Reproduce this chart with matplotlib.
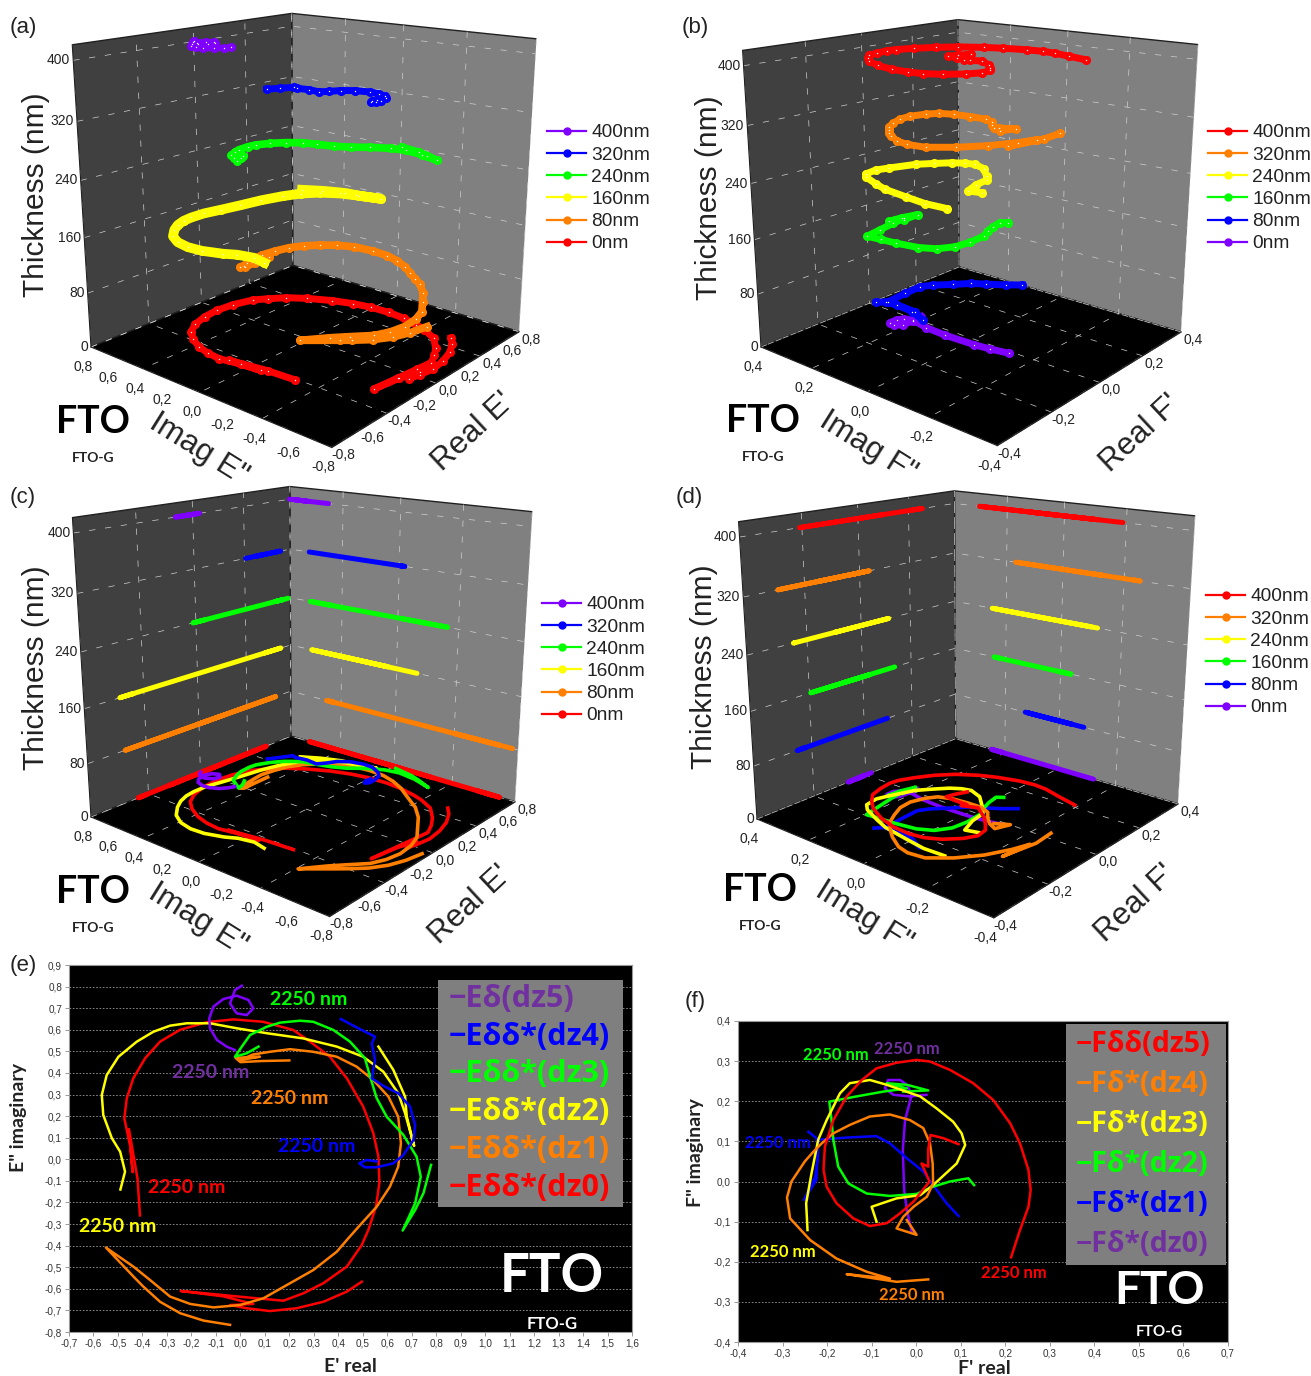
import numpy as np
import matplotlib
matplotlib.use('Agg')
import matplotlib.pyplot as plt
from matplotlib.lines import Line2D
from matplotlib.patches import Rectangle
from mpl_toolkits.mplot3d import proj3d

W = 1311
H = 1376

# E field
E_RE_0 = [-0.41,-0.42,-0.455,-0.44,-0.45,-0.474,-0.464,-0.437,-0.389,-0.328,-0.246,-0.137,-0.029,0.093,0.216,0.285,0.366,0.435,0.502,0.543,0.564,0.568,0.554,0.523,0.496,0.435,0.339,0.257,0.176,0.067,-0.069,-0.244,-0.069,0.053,-0.042,0.026,0.121,0.23,0.339,0.435,0.496]
E_IM_0 = [-0.26,-0.09,0.14,-0.06,0.06,0.19,0.283,0.376,0.468,0.545,0.60,0.635,0.648,0.637,0.599,0.545,0.475,0.375,0.244,0.122,0.012,-0.11,-0.22,-0.327,-0.397,-0.497,-0.574,-0.621,-0.655,-0.644,-0.629,-0.61,-0.635,-0.67,-0.675,-0.69,-0.703,-0.69,-0.66,-0.613,-0.567]
E_RE_1 = [0.20,0.08,0.00,-0.02,0.08,0.00,0.05,0.121,0.203,0.298,0.394,0.475,0.543,0.605,0.645,0.656,0.645,0.611,0.557,0.496,0.441,0.394,0.298,0.203,0.094,-0.001,-0.11,-0.205,-0.287,-0.369,-0.437,-0.549,-0.43,-0.396,-0.328,-0.246,-0.151,-0.042]
E_IM_1 = [0.458,0.455,0.45,0.47,0.475,0.46,0.485,0.498,0.51,0.498,0.475,0.429,0.367,0.29,0.197,0.074,-0.034,-0.127,-0.22,-0.296,-0.366,-0.428,-0.513,-0.574,-0.644,-0.675,-0.686,-0.67,-0.636,-0.559,-0.497,-0.409,-0.551,-0.59,-0.66,-0.713,-0.747,-0.767]
E_RE_2 = [-0.49,-0.471,-0.491,-0.525,-0.56,-0.566,-0.546,-0.498,-0.423,-0.355,-0.287,-0.219,-0.124,-0.015,0.108,0.257,0.394,0.502,0.584,0.645,0.673,0.71,0.68,0.673,0.625,0.564]
E_IM_2 = [-0.14,-0.057,0.035,0.098,0.205,0.298,0.39,0.475,0.545,0.591,0.619,0.63,0.63,0.607,0.584,0.56,0.522,0.475,0.406,0.306,0.213,0.062,0.197,0.29,0.414,0.522]
E_RE_3 = [0.074,0.026,-0.022,0.006,0.04,0.108,0.162,0.244,0.298,0.38,0.448,0.509,0.53,0.557,0.598,0.666,0.72,0.737,0.714,0.663,0.714,0.748,0.779]
E_IM_3 = [0.522,0.491,0.475,0.522,0.576,0.614,0.633,0.642,0.637,0.599,0.545,0.468,0.383,0.283,0.197,0.113,0.012,-0.081,-0.204,-0.33,-0.235,-0.157,-0.026]
E_RE_4 = [0.41,0.475,0.55,0.537,0.55,0.537,0.584,0.645,0.693,0.714,0.707,0.666,0.625,0.557,0.509,0.486,0.516,0.557]
E_IM_4 = [0.65,0.611,0.568,0.537,0.46,0.375,0.34,0.306,0.244,0.159,0.089,0.02,-0.019,-0.037,-0.037,-0.019,-0.003,-0.01]
E_RE_5 = [0.006,-0.022,-0.042,-0.015,0.026,0.053,0.033,-0.015,-0.07,-0.11,-0.127,-0.124,-0.096,-0.056,-0.022]
E_IM_5 = [0.804,0.784,0.722,0.676,0.668,0.699,0.738,0.758,0.742,0.707,0.653,0.607,0.553,0.522,0.506]

# F field
F_RE_0 = [0.023,-0.014,-0.051,-0.07,-0.063,-0.036,-0.021,-0.01,-0.025,-0.03,-0.027,-0.021,-0.01]
F_IM_0 = [0.216,0.212,0.216,0.232,0.253,0.253,0.241,0.216,0.153,0.079,-0.021,-0.071,-0.125]
F_RE_1 = [-0.242,-0.224,-0.22,-0.227,-0.252,-0.224,-0.22,-0.149,-0.089,-0.059,-0.021,0.016,0.038,0.068,0.095]
F_IM_1 = [0.124,0.108,0.07,0.012,-0.046,0.004,0.104,0.11,0.113,0.095,0.058,0.025,-0.009,-0.054,-0.086]
F_RE_2 = [0.13,0.117,0.076,0.038,0.001,-0.059,-0.111,-0.152,-0.175,-0.186,-0.19,-0.195,-0.134,-0.074,-0.021,-0.066,-0.021,0.027,-0.029]
F_IM_2 = [-0.009,0.008,0.0,-0.013,-0.031,-0.036,-0.03,-0.005,0.037,0.104,0.153,0.199,0.212,0.224,0.232,0.245,0.241,0.227,0.224]
F_RE_3 = [-0.244,-0.247,-0.235,-0.22,-0.201,-0.171,-0.149,-0.104,-0.066,0.009,0.046,0.083,0.102,0.11,0.091,0.038,0.009,-0.044,-0.10,-0.089]
F_IM_3 = [-0.121,-0.054,0.02,0.104,0.153,0.22,0.245,0.253,0.241,0.212,0.182,0.149,0.12,0.091,0.045,-0.009,-0.034,-0.042,-0.063,-0.10]
F_RE_4 = [0.027,-0.044,-0.156,-0.059,-0.111,-0.179,-0.238,-0.283,-0.29,-0.28,-0.25,-0.231,-0.212,-0.186,-0.149,-0.104,-0.059,-0.014,0.016,0.031,0.037,0.038,0.024,-0.006,-0.029,-0.044,0.001,-0.021]
F_IM_4 = [-0.244,-0.25,-0.231,-0.242,-0.225,-0.192,-0.146,-0.092,-0.04,0.0,0.05,0.074,0.095,0.12,0.141,0.162,0.167,0.153,0.133,0.095,0.045,-0.005,-0.038,-0.063,-0.088,-0.117,-0.133,-0.096]
F_RE_5 = [0.213,0.233,0.252,0.257,0.252,0.233,0.211,0.173,0.128,0.076,0.031,0.001,-0.044,-0.089,-0.122,-0.156,-0.186,-0.205,-0.208,-0.201,-0.179,-0.141,-0.104,-0.066,-0.036,-0.006,0.03,0.012,0.027,0.027,0.032,0.061,0.095]
F_IM_5 = [-0.189,-0.121,-0.063,-0.021,0.029,0.095,0.145,0.203,0.245,0.278,0.299,0.303,0.296,0.282,0.253,0.212,0.153,0.087,0.029,-0.013,-0.054,-0.092,-0.111,-0.104,-0.079,-0.05,0.0,0.045,0.037,0.08,0.116,0.108,0.093]

LEVELS = [0, 80, 160, 240, 320, 400]
E_SERIES = [(E_RE_0, E_IM_0), (E_RE_1, E_IM_1), (E_RE_2, E_IM_2), (E_RE_3, E_IM_3), (E_RE_4, E_IM_4), (E_RE_5, E_IM_5)]
F_SERIES = [(F_RE_0, F_IM_0), (F_RE_1, F_IM_1), (F_RE_2, F_IM_2), (F_RE_3, F_IM_3), (F_RE_4, F_IM_4), (F_RE_5, F_IM_5)]

RED = '#ff0000'
ORANGE = '#ff7f00'
YELLOW = '#ffff00'
GREEN = '#00ff00'
BLUE = '#0000ff'
PURPLE = '#7f00ff'
DARK_PURPLE = '#7030a0'
E_COLORS = [RED, ORANGE, YELLOW, GREEN, BLUE, PURPLE]
F_COLORS = [PURPLE, BLUE, GREEN, YELLOW, ORANGE, RED]

E_LEGEND = ['\u2212E\u03b4\u03b4*(dz0)', '\u2212E\u03b4\u03b4*(dz1)', '\u2212E\u03b4\u03b4*(dz2)', '\u2212E\u03b4\u03b4*(dz3)', '\u2212E\u03b4\u03b4*(dz4)', '\u2212E\u03b4(dz5)']
F_LEGEND = ['\u2212F\u03b4*(dz0)', '\u2212F\u03b4*(dz1)', '\u2212F\u03b4*(dz2)', '\u2212F\u03b4*(dz3)', '\u2212F\u03b4*(dz4)', '\u2212F\u03b4\u03b4(dz5)']

plt.rcParams['font.family'] = ['Liberation Sans', 'DejaVu Sans']

fig = plt.figure(figsize=(W / 100, H / 100), dpi=100)


def fx(px):
	return px / W


def fy(py):
	return 1 - py / H


def comma(v):
	return ('%.1f' % (v + 0)).replace('.', ',').replace('-0,0', '0,0')


def screen_pos(ax, x, y, z):
	ax.apply_aspect()
	xp, yp, _ = proj3d.proj_transform(x, y, z, ax.get_proj())
	return ax.transData.transform((xp, yp))


def fit_axes(ax, lim, left_px, right_px):
	# scale and shift the axes until the floor corners sit where they should
	a = screen_pos(ax, -lim, lim, 0)
	b = screen_pos(ax, lim, -lim, 0)
	scale = (right_px[0] - left_px[0]) / (b[0] - a[0])
	pos = ax.get_position()
	ax.set_position([pos.x0, pos.y0, pos.width * scale, pos.height * scale])
	a = screen_pos(ax, -lim, lim, 0)
	pos = ax.get_position()
	ax.set_position([pos.x0 + (left_px[0] - a[0]) / W, pos.y0 + (H - left_px[1] - a[1]) / H, pos.width, pos.height])


def label_at(p, dx, dy, s, ha='center'):
	# p is in display pixels, dy counts downwards
	fig.text((p[0] + dx) / W, (p[1] - dy) / H, s, ha=ha, va='center', fontsize=10, color='#222222')


def panel3d(left_px, right_px, lim, series, colors, walls, widths, letter, letter_px, re_name, im_name, thick_px, imag_px, real_px, fto_x, fto_y, legend_px):
	ax = fig.add_axes([0.1, 0.1, 0.4, 0.4], projection='3d', computed_zorder=False)
	ax.set_proj_type('persp', focal_length=0.38)
	ax.view_init(elev=16.5, azim=-140)
	ax.set_box_aspect((1, 1, 0.98))
	ax.set_xlim(-lim, lim)
	ax.set_ylim(-lim, lim)
	ax.set_zlim(0, 420)
	step = lim / 2
	ax.set_xticks(np.arange(-lim, lim + 0.01, step))
	ax.set_yticks(np.arange(-lim, lim + 0.01, step))
	ax.set_zticks(LEVELS)
	ax.set_xticklabels([])
	ax.set_yticklabels([])
	ax.set_zticklabels([])
	ax.set_facecolor('none')
	ax.xaxis.set_pane_color('#808080')
	ax.yaxis.set_pane_color('#404040')
	ax.zaxis.set_pane_color('#000000')
	for axis in [ax.xaxis, ax.yaxis, ax.zaxis]:
		axis._axinfo['grid'].update(color='#d0d0d0', linewidth=0.5, linestyle=(0, (9, 14)))
		axis._axinfo['tick'].update(inward_factor=0, outward_factor=0)
		axis.line.set_color('#202020')
		axis.pane.set_edgecolor('#202020')

	for i in range(6):
		re = np.array(series[i][0])
		im = np.array(series[i][1])
		z = LEVELS[i]
		if walls:
			ax.plot(re, re * 0 + lim, z, color=colors[i], lw=3.6, solid_capstyle='round', zorder=3)
			ax.plot(im * 0 + lim, im, z, color=colors[i], lw=3.6, solid_capstyle='round', zorder=3)
			ax.plot(re, im, 0, color=colors[i], lw=2.6, zorder=4 + i)
		else:
			ax.plot(re, im, z, color=colors[i], lw=widths[i], marker='o', ms=5.5, zorder=4 + i)
			ax.plot(re, im, z, ls='none', marker='o', ms=1, mew=0, color='#ffffff', zorder=4 + i)

	fit_axes(ax, lim, left_px, right_px)

	# tick labels are placed just outside the box edges
	for v in LEVELS:
		label_at(screen_pos(ax, -lim, lim, v), -3, 0, str(v), ha='right')
	for v in np.arange(-lim, lim + 0.01, 0.2):
		label_at(screen_pos(ax, -lim, v, 0), -8, 20, comma(v))
		label_at(screen_pos(ax, v, -lim, 0), 12, 8, comma(v))

	fig.text(fx(thick_px[0]), fy(thick_px[1]), 'Thickness (nm)', rotation=90, ha='center', va='center', fontsize=21.5, color='#222222')
	fig.text(fx(imag_px[0]), fy(imag_px[1]), 'Imag ' + im_name, rotation=-32, ha='center', va='center', fontsize=22.5, color='#222222')
	fig.text(fx(real_px[0]), fy(real_px[1]), 'Real ' + re_name, rotation=43, ha='center', va='center', fontsize=22.5, color='#222222')
	fig.text(fx(fto_x), fy(fto_y), 'FTO', ha='center', va='center', fontsize=27, fontweight='bold', family='Lato', color='black')
	fig.text(fx(fto_x), fy(fto_y + 36), 'FTO-G', ha='center', va='center', fontsize=10, fontweight='bold', family='Lato', color='#222222')
	fig.text(fx(letter_px[0]), fy(letter_px[1]), letter, ha='left', va='center', fontsize=16, color='#222222')

	handles = []
	labels = []
	for i in [5, 4, 3, 2, 1, 0]:
		handles.append(Line2D([0], [0], color=colors[i], lw=1.6, marker='o', ms=5))
		labels.append('%dnm' % LEVELS[i])
	fig.legend(handles, labels, loc='upper left', bbox_to_anchor=(fx(legend_px[0]), fy(legend_px[1])), frameon=False,
		fontsize=13.8, borderpad=0, borderaxespad=0, handlelength=2.05, handletextpad=0.25, labelspacing=0.25, labelcolor='#222222')


panel3d((91, 347), (519, 332), 0.8, E_SERIES, E_COLORS, False, [5, 5.5, 7, 5.5, 5, 4.5], '(a)', (10, 27), "E'", 'E"', (36, 195), (199, 449), (473, 432), 93, 422, (547, 124))
panel3d((761, 347), (1181, 335), 0.4, F_SERIES, F_COLORS, False, [5, 5, 5, 5, 5, 5], '(b)', (682, 27), "F'", 'F"', (709, 198), (868, 447), (1141, 434), 763, 421, (1208, 124))
panel3d((91, 817), (515, 805), 0.8, E_SERIES, E_COLORS, True, None, '(c)', (10, 497), "E'", 'E"', (36, 668), (198, 919), (470, 905), 93, 892, (542, 596))
panel3d((757, 819), (1178, 805), 0.4, F_SERIES, F_COLORS, True, None, '(d)', (676, 497), "F'", 'F"', (704, 667), (864, 917), (1136, 904), 760, 890, (1206, 588))


def panel2d(rect, xlim, ylim, series, colors, names, box, notes, note_size, big, small, xname, xname_px, yname, yname_px, font_big, letter, letter_px):
	ax = fig.add_axes([fx(rect[0]), fy(rect[3]), (rect[2] - rect[0]) / W, (rect[3] - rect[1]) / H])
	ax.set_facecolor('black')
	ax.set_xlim(xlim)
	ax.set_ylim(ylim)
	xt = np.arange(xlim[0], xlim[1] + 0.01, 0.1)
	yt = np.arange(ylim[0], ylim[1] + 0.01, 0.1)
	ax.set_xticks(xt)
	ax.set_yticks(yt)
	ax.set_xticklabels([comma(v) for v in xt], fontsize=7.2, color='#333333')
	ax.set_yticklabels([comma(v) for v in yt], fontsize=7.2, color='#333333')
	ax.tick_params(length=3, width=0.6, color='#888888', pad=2)
	ax.grid(True, axis='y', color='#999999', linestyle=(0, (2, 2)), linewidth=0.6)
	ax.set_axisbelow(True)
	for s in ax.spines.values():
		s.set_color('#999999')
	for i in range(6):
		ax.plot(series[i][0], series[i][1], color=colors[i], lw=1.8, solid_joinstyle='round')
	ax.add_patch(Rectangle((box[0], box[1]), box[2] - box[0], box[3] - box[1], transform=ax.transAxes, facecolor='#7f7f7f', edgecolor='none', zorder=5))
	row = (box[3] - box[1]) / 6
	for i in range(6):
		ax.text(box[0] + 0.02, box[1] + row * (i + 0.5), names[i], transform=ax.transAxes, color=colors[i] if colors[i] != PURPLE else DARK_PURPLE,
			fontsize=font_big, fontweight='bold', family='Open Sans', va='center', ha='left', zorder=6)
	for n in notes:
		ax.text(n[0], n[1], '2250 nm', color=n[2], fontsize=note_size, fontweight='bold', family='Lato', ha='center', va='center', zorder=6)
	ax.text(big[0], big[1], 'FTO', transform=ax.transAxes, color='white', fontsize=big[2], fontweight='bold', family='Lato', ha='center', va='center')
	ax.text(small[0], small[1], 'FTO-G', transform=ax.transAxes, color='white', fontsize=small[2], fontweight='bold', family='Lato', ha='center', va='center')
	fig.text(fx(xname_px[0]), fy(xname_px[1]), xname, fontsize=14, fontweight='bold', family='Lato', color='#222222', ha='center', va='center')
	fig.text(fx(yname_px[0]), fy(yname_px[1]), yname, fontsize=14, fontweight='bold', family='Lato', color='#222222', ha='center', va='center', rotation=90)
	fig.text(fx(letter_px[0]), fy(letter_px[1]), letter, ha='left', va='center', fontsize=16, color='#222222')


E_NOTES = [(-0.12, 0.4, DARK_PURPLE), (0.2, 0.28, ORANGE), (0.28, 0.74, GREEN), (0.31, 0.06, BLUE), (-0.22, -0.13, RED), (-0.5, -0.31, YELLOW)]
F_NOTES = [(-0.02, 0.33, DARK_PURPLE), (-0.18, 0.315, GREEN), (-0.31, 0.095, BLUE), (-0.3, -0.175, YELLOW), (0.22, -0.228, RED), (-0.01, -0.283, ORANGE)]

panel2d((69, 965, 632, 1332), (-0.7, 1.6), (-0.8, 0.9), E_SERIES, E_COLORS, E_LEGEND, (0.655, 0.34, 0.984, 0.96), E_NOTES, 14,
	(0.858, 0.15, 38), (0.858, 0.022, 12), "E' real", (350, 1366), 'E" imaginary', (19, 1118), 22, '(e)', (10, 965))
panel2d((738, 1021, 1228, 1342), (-0.4, 0.7), (-0.4, 0.4), F_SERIES, F_COLORS, F_LEGEND, (0.67, 0.24, 0.995, 0.99), F_NOTES, 12,
	(0.86, 0.16, 33), (0.86, 0.03, 11), "F' real", (984, 1369), 'F" imaginary', (695, 1153), 20.5, '(f)', (685, 1002))

fig.savefig('out.png', dpi=100)
